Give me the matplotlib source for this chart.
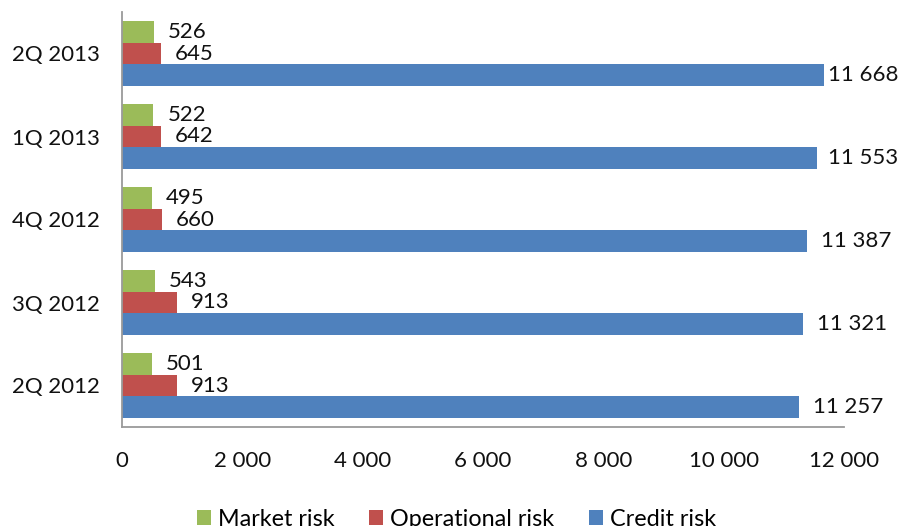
import matplotlib
matplotlib.use("Agg")
import matplotlib.pyplot as plt
import numpy as np

categories = ["2Q 2012", "3Q 2012", "4Q 2012", "1Q 2013", "2Q 2013"]
market_risk = [501, 543, 495, 522, 526]
operational_risk = [913, 913, 660, 642, 645]
credit_risk = [11257, 11321, 11387, 11553, 11668]
series_names = ["Market risk", "Operational risk", "Credit risk"]
x_ticks = [0, 2000, 4000, 6000, 8000, 10000, 12000]

colors = ["#9BBB59", "#C0504D", "#4F81BD"]


def fmt(v):
    return "{:,}".format(int(v)).replace(",", " ")


plt.rcParams['font.family'] = ['Lato', 'DejaVu Sans']
FS = 16
W, H = 901, 526
fig = plt.figure(figsize=(W / 100, H / 100), dpi=100)
ax = fig.add_axes([122 / W, 1 - 427 / H, (844 - 122) / W, (427 - 12) / H])

y = np.arange(len(categories))
h = 0.265
offsets = [h, 0, -h]
labels = []
for vals, off, c, name in zip([market_risk, operational_risk, credit_risk], offsets, colors, series_names):
    ax.barh(y + off, vals, height=h, color=c, label=name, edgecolor='none')
    for yi, v in zip(y, vals):
        t = ax.annotate(fmt(v), xy=(v, yi + off), xytext=(14, 0), textcoords='offset pixels',
                        ha='left', va='center', fontsize=FS, color='#111111', annotation_clip=False)
        labels.append(t)

ax.set_xlim(0, 12000)
ax.set_ylim(-0.5, len(categories) - 0.5)
ax.set_xticks(x_ticks)
ax.set_xticklabels([fmt(v) for v in x_ticks], fontsize=FS, color='#111111')
ax.set_yticks(y)
ax.set_yticklabels(categories, fontsize=FS, color='#111111')
ax.tick_params(axis='both', length=0)
ax.tick_params(axis='y', pad=16)
ax.tick_params(axis='x', pad=17)
for s in ['top', 'right']:
    ax.spines[s].set_visible(False)
for s in ['left', 'bottom']:
    ax.spines[s].set_color('#9a9a9a')
    ax.spines[s].set_linewidth(1.3)

leg = fig.legend(loc='upper center', bbox_to_anchor=(456.5 / W, 1 - 509 / H), ncol=3, frameon=False,
                 fontsize=16.8, handlelength=0.6, handleheight=0.6, handletextpad=0.3,
                 columnspacing=1.5, borderaxespad=0, borderpad=0)

# keep data labels inside the figure (as the original does)
fig.canvas.draw()
r = fig.canvas.get_renderer()
for t in labels:
    bb = t.get_window_extent(r)
    if bb.x1 > W - 3:
        t.set_position((14 - (bb.x1 - (W - 3)), 0))

fig.savefig("out.png", dpi=100)
